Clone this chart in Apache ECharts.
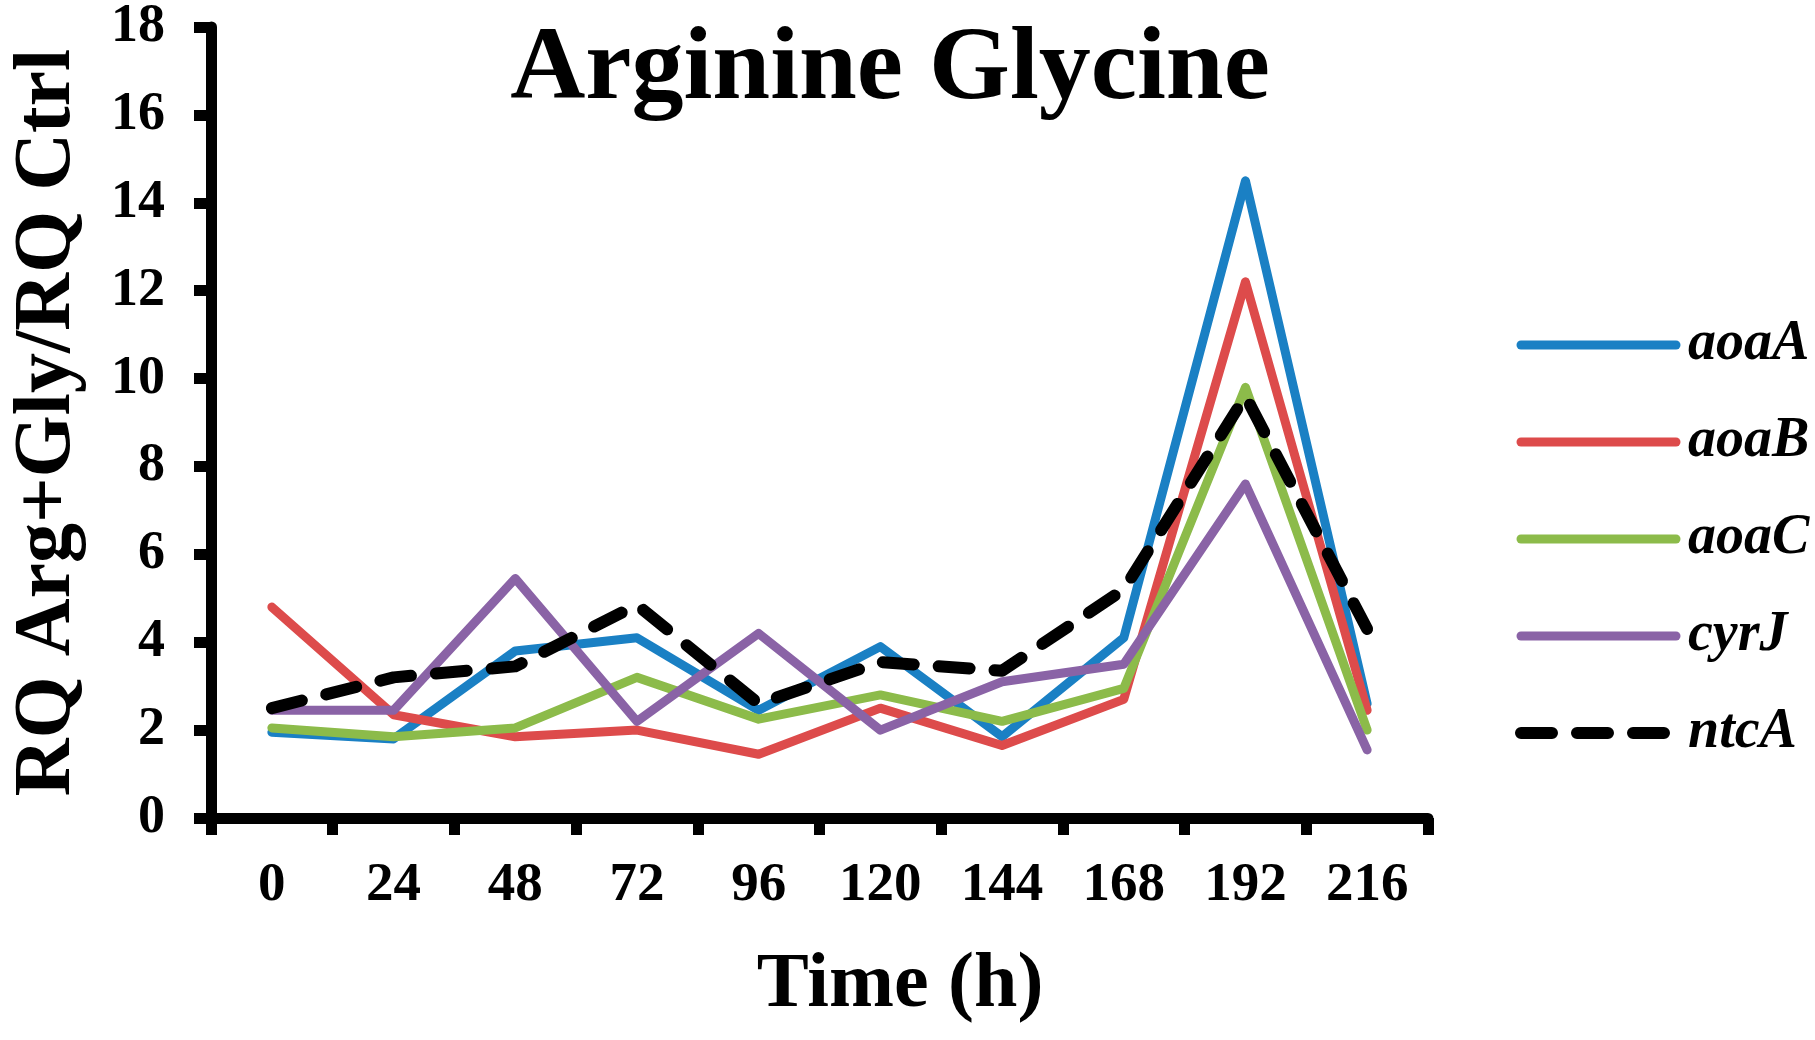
<!DOCTYPE html>
<html>
<head>
<meta charset="utf-8">
<title>Arginine Glycine</title>
<script src="https://cdn.jsdelivr.net/npm/echarts@6/dist/echarts.min.js"></script>
<style>
  html, body { margin: 0; padding: 0; background: #fff; }
  #chart { width: 1815px; height: 1040px; }
</style>
</head>
<body>
<div id="chart"></div>
<script>
// time points (h)
var hours = ['0', '24', '48', '72', '96', '120', '144', '168', '192', '216'];

// RQ Arg+Gly / RQ Ctrl
var aoaA = [1.95, 1.8, 3.8, 4.1, 2.45, 3.9, 1.85, 4.1, 14.5, 2.6];
var aoaB = [4.8, 2.35, 1.85, 2.0, 1.45, 2.5, 1.65, 2.7, 12.2, 2.45];
var aoaC = [2.05, 1.85, 2.05, 3.2, 2.25, 2.8, 2.2, 2.95, 9.8, 2.0];
var cyrJ = [2.45, 2.45, 5.45, 2.2, 4.2, 2.0, 3.1, 3.5, 7.6, 1.55];
var ntcA = [2.5, 3.2, 3.45, 4.85, 2.6, 3.55, 3.35, 5.2, 9.6, 4.3];

var serif = "'Liberation Serif', 'Times New Roman', serif";

function solid(name, data, color) {
  return {
    name: name,
    type: 'line',
    data: data,
    symbol: 'none',
    color: color,
    lineStyle: { color: color, width: 9, cap: 'round', join: 'round' }
  };
}

var chart = echarts.init(document.getElementById('chart'));

var option = {
  backgroundColor: '#fff',
  animation: false,
  grid: { left: 208, right: 387, top: 25, bottom: 222, containLabel: false },
  legend: {
    orient: 'vertical',
    left: 1510,
    top: 312,
    itemWidth: 155,
    itemHeight: 20,
    itemGap: 41,
    selectedMode: false,
    itemStyle: { opacity: 0 }, // no marker dot, line only
    lineStyle: { width: 'inherit' },
    textStyle: {
      fontFamily: serif,
      fontStyle: 'italic',
      fontWeight: 'bold',
      fontSize: 56,
      lineHeight: 56,
      color: '#000',
      padding: [0, 0, 0, 7]
    },
    data: ['aoaA', 'aoaB', 'aoaC', 'cyrJ', 'ntcA']
  },
  graphic: [
    { // chart title
      type: 'text',
      style: {
        text: 'Arginine Glycine',
        x: 890, y: 71,
        align: 'center', verticalAlign: 'middle',
        font: 'bold 104px ' + serif,
        fill: '#000'
      }
    },
    { // x axis title
      type: 'text',
      style: {
        text: 'Time (h)',
        x: 900, y: 986,
        align: 'center', verticalAlign: 'middle',
        font: 'bold 78px ' + serif,
        fill: '#000'
      }
    }
  ],
  xAxis: {
    type: 'category',
    data: hours,
    boundaryGap: true,
    axisLine: { lineStyle: { color: '#000', width: 11 } },
    axisTick: { show: true, length: 17, lineStyle: { color: '#000', width: 11 } },
    axisLabel: {
      margin: 40,
      fontFamily: serif,
      fontWeight: 'bold',
      fontSize: 55,
      color: '#000'
    },
    splitLine: { show: false }
  },
  yAxis: {
    type: 'value',
    min: 0,
    max: 18,
    interval: 2,
    name: 'RQ Arg+Gly/RQ Ctrl',
    nameLocation: 'middle',
    nameGap: 123,
    nameTextStyle: {
      fontFamily: serif,
      fontWeight: 'bold',
      fontSize: 80,
      color: '#000'
    },
    axisLine: { show: true, lineStyle: { color: '#000', width: 11 } },
    axisTick: { show: true, length: 17, lineStyle: { color: '#000', width: 11 } },
    axisLabel: {
      margin: 46,
      fontFamily: serif,
      fontWeight: 'bold',
      fontSize: 54,
      color: '#000'
    },
    splitLine: { show: false }
  },
  series: [
    solid('aoaA', aoaA, '#1a80c4'),
    solid('aoaB', aoaB, '#dd4b4b'),
    solid('aoaC', aoaC, '#8cbb4a'),
    solid('cyrJ', cyrJ, '#8a63a6'),
    {
      name: 'ntcA',
      type: 'line',
      data: ntcA,
      symbol: 'none',
      color: '#000',
      lineStyle: { color: '#000', width: 12, type: [31, 25], cap: 'round', join: 'round' }
    }
  ]
};

chart.setOption(option);
</script>
</body>
</html>
